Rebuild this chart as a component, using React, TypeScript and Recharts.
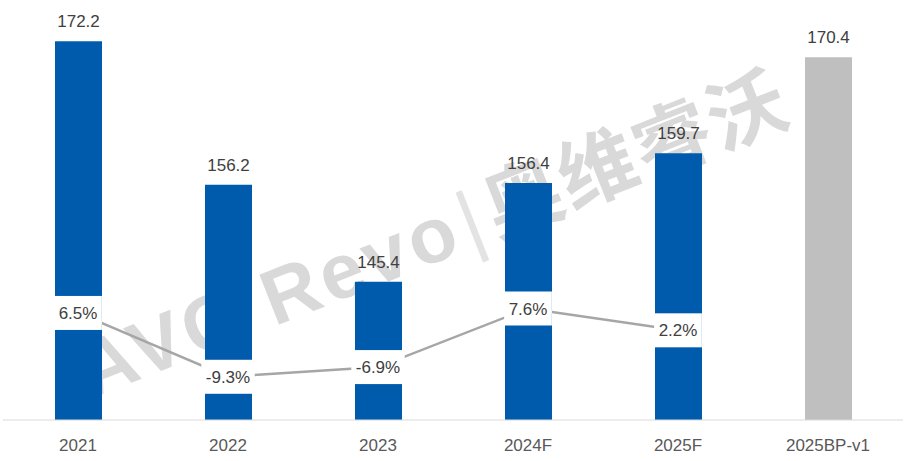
import React from 'react';
import { ComposedChart, Bar, Line, XAxis, YAxis, Cell, LabelList } from 'recharts';

const categories = ['2021', '2022', '2023', '2024F', '2025F', '2025BP-v1'];
const volumes = [172.2, 156.2, 145.4, 156.4, 159.7, 170.4];
const growth: (number | null)[] = [6.5, -9.3, -6.9, 7.6, 2.2, null];

const barColors = ['#005BAC', '#005BAC', '#005BAC', '#005BAC', '#005BAC', '#BFBFBF'];

const data = categories.map((name, i) => ({
  name,
  volume: volumes[i],
  growth: growth[i],
}));

const FONT = '"Liberation Sans", Arial, sans-serif';

// rough text width for Arial-metric glyphs
const textWidth = (s: string, size: number) => {
  let w = 0;
  for (const ch of s) {
    if (ch === '.') w += 0.278;
    else if (ch === '-') w += 0.333;
    else if (ch === '%') w += 0.889;
    else w += 0.556;
  }
  return w * size;
};

const GrowthLabel = (props: any) => {
  const { x, y, value } = props;
  if (value == null) return null;
  const text = `${value.toFixed(1)}%`;
  const w = textWidth(text, 17) + 9;
  return (
    <g>
      <rect x={x - w / 2} y={y - 17} width={w} height={34} fill="#FFFFFF" />
      <text x={x} y={y} dy="0.36em" textAnchor="middle" fill="#404040" fontSize={17} fontFamily={FONT}>
        {text}
      </text>
    </g>
  );
};

const Watermark = () => (
  <div
    style={{
      position: 'absolute',
      left: 432,
      top: 232,
      transform: 'translate(-50%, -50%) rotate(-21.5deg)',
      whiteSpace: 'nowrap',
      color: '#D9D9D9',
      fontFamily: FONT,
      fontWeight: 'bold',
      fontSize: 78,
      letterSpacing: 4,
      lineHeight: 1,
    }}
  >
    AVC Revo
    <span style={{ fontWeight: 'normal', fontSize: 80, margin: '0 4px', color: '#E3E3E3' }}>|</span>
    <span style={{ fontFamily: '"Noto Sans CJK SC", sans-serif', letterSpacing: 2 }}>奥维睿沃</span>
  </div>
);

export default function App() {
  return (
    <div style={{ position: 'absolute', left: 0, top: 0, width: 906, height: 461, background: '#FFFFFF', overflow: 'hidden' }}>
      <Watermark />
      <div style={{ position: 'absolute', left: 0, top: 0 }}>
        <ComposedChart width={906} height={461} data={data} margin={{ top: 16, right: 3, bottom: 0, left: 3 }}>
          <XAxis
            dataKey="name"
            height={41}
            tickLine={false}
            axisLine={{ stroke: '#D9D9D9', strokeWidth: 1 }}
            tickMargin={13}
            tick={{ fill: '#595959', fontSize: 17, fontFamily: FONT }}
          />
          <YAxis yAxisId="left" hide domain={[130, 175]} allowDataOverflow />
          <YAxis yAxisId="right" hide orientation="right" domain={[-20, 80]} allowDataOverflow />
          <Bar yAxisId="left" dataKey="volume" barSize={47} isAnimationActive={false}>
            {data.map((d, i) => (
              <Cell key={d.name} fill={barColors[i]} />
            ))}
            <LabelList dataKey="volume" position="top" offset={14} fill="#404040" fontSize={17} fontFamily={FONT} />
          </Bar>
          <Line
            yAxisId="right"
            dataKey="growth"
            stroke="#A6A6A6"
            strokeWidth={2.5}
            dot={false}
            activeDot={false}
            isAnimationActive={false}
            label={<GrowthLabel />}
          />
        </ComposedChart>
      </div>
    </div>
  );
}
